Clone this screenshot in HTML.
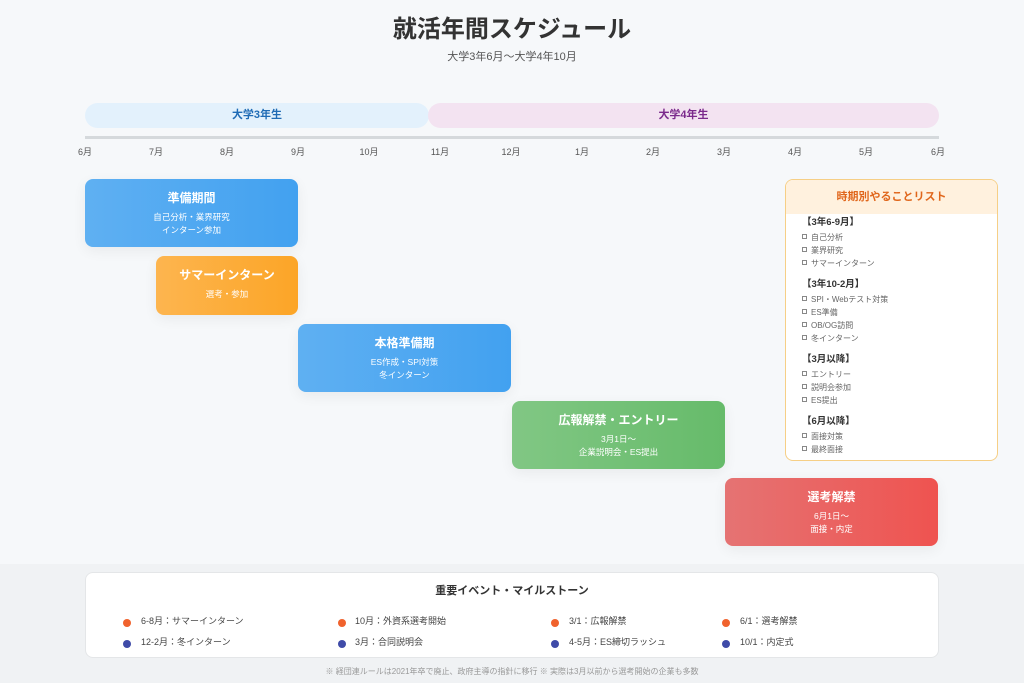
<!DOCTYPE html>
<html><head><meta charset="utf-8"><style>
*{margin:0;padding:0;box-sizing:border-box}
body{width:1024px;height:683px;background:#f6f8fa;font-family:"Liberation Sans","Noto Sans CJK JP",sans-serif;position:relative;overflow:hidden;color:#333}
.a{position:absolute}
.t{left:0;width:1024px;text-align:center}
.m{font-size:9px;color:#555;width:30px;text-align:center;top:145px}
.blk{position:absolute;border-radius:8px;color:#fff;text-align:center;box-shadow:0 4px 14px rgba(0,0,0,.06)}
.blk b{display:block;font-size:12px;margin-top:10px;margin-bottom:5px}
.blk span{font-size:8.5px;line-height:13px;display:block}
.ls{font-size:8px;color:#666;line-height:13px;padding-left:16px}
.ls i{display:inline-block;width:5px;height:5px;border:1px solid #888;margin-right:4px;vertical-align:1px}
.lh{font-size:9.5px;font-weight:bold;color:#333;padding-left:16px;margin-top:7px;line-height:16px}
.ev{font-size:9px;color:#444;position:absolute}
.dot{position:absolute;width:8px;height:8px;border-radius:50%}
</style></head><body>
<div class="a t" style="top:9px;font-size:24px;font-weight:bold;color:#333">就活年間スケジュール</div>
<div class="a t" style="top:48px;font-size:11px;color:#555">大学3年6月〜大学4年10月</div>
<div class="a" style="left:85px;top:103px;width:344px;height:25px;border-radius:13px;background:#e3f1fc;color:#1f6bb5;font-size:11px;font-weight:bold;text-align:center;line-height:25px">大学3年生</div>
<div class="a" style="left:428px;top:103px;width:511px;height:25px;border-radius:13px;background:#f3e3f1;color:#7b2a8c;font-size:11px;font-weight:bold;text-align:center;line-height:25px">大学4年生</div>
<div class="a" style="left:85px;top:136px;width:854px;height:3px;background:#d5d9dc"></div>
<div class="a m" style="left:70px">6月</div><div class="a m" style="left:141px">7月</div><div class="a m" style="left:212px">8月</div><div class="a m" style="left:283px">9月</div><div class="a m" style="left:354px">10月</div><div class="a m" style="left:425px">11月</div><div class="a m" style="left:496px">12月</div><div class="a m" style="left:567px">1月</div><div class="a m" style="left:638px">2月</div><div class="a m" style="left:709px">3月</div><div class="a m" style="left:780px">4月</div><div class="a m" style="left:851px">5月</div><div class="a m" style="left:923px">6月</div>
<div class="blk" style="left:85px;top:179px;width:213px;height:68px;background:linear-gradient(90deg,#5fb0f2,#42a1f0)"><b>準備期間</b><span>自己分析・業界研究<br>インターン参加</span></div>
<div class="blk" style="left:156px;top:256px;width:142px;height:59px;background:linear-gradient(90deg,#fdb54f,#fca527)"><b>サマーインターン</b><span>選考・参加</span></div>
<div class="blk" style="left:298px;top:324px;width:213px;height:68px;background:linear-gradient(90deg,#5fb0f2,#42a1f0)"><b>本格準備期</b><span>ES作成・SPI対策<br>冬インターン</span></div>
<div class="blk" style="left:512px;top:401px;width:213px;height:68px;background:linear-gradient(90deg,#81c784,#66bb6a)"><b>広報解禁・エントリー</b><span>3月1日〜<br>企業説明会・ES提出</span></div>
<div class="blk" style="left:725px;top:478px;width:213px;height:68px;background:linear-gradient(90deg,#e57373,#ef5350)"><b>選考解禁</b><span>6月1日〜<br>面接・内定</span></div>
<div class="a" style="left:785px;top:179px;width:213px;height:282px;background:#fff;border:1.5px solid #f6cf86;border-radius:8px;overflow:hidden">
<div style="background:#fff1de;height:34px;line-height:34px;text-align:center;color:#e0661b;font-weight:bold;font-size:11px">時期別やることリスト</div>
<div class="lh" style="margin-top:1px">【3年6-9月】</div>
<div class="ls"><i></i>自己分析<br><i></i>業界研究<br><i></i>サマーインターン</div>
<div class="lh">【3年10-2月】</div>
<div class="ls"><i></i>SPI・Webテスト対策<br><i></i>ES準備<br><i></i>OB/OG訪問<br><i></i>冬インターン</div>
<div class="lh">【3月以降】</div>
<div class="ls"><i></i>エントリー<br><i></i>説明会参加<br><i></i>ES提出</div>
<div class="lh">【6月以降】</div>
<div class="ls"><i></i>面接対策<br><i></i>最終面接</div>
</div>
<div class="a" style="left:0;top:564px;width:1024px;height:119px;background:#f0f2f4"></div>
<div class="a" style="left:85px;top:572px;width:854px;height:86px;background:#fff;border:1px solid #e4e6e8;border-radius:8px"></div>
<div class="a t" style="top:582px;font-size:11px;font-weight:bold;color:#333">重要イベント・マイルストーン</div>
<div class="dot" style="left:123px;top:619px;background:#f0622d"></div><div class="ev" style="left:141px;top:614px">6-8月：サマーインターン</div>
<div class="dot" style="left:338px;top:619px;background:#f0622d"></div><div class="ev" style="left:355px;top:614px">10月：外資系選考開始</div>
<div class="dot" style="left:551px;top:619px;background:#f0622d"></div><div class="ev" style="left:569px;top:614px">3/1：広報解禁</div>
<div class="dot" style="left:722px;top:619px;background:#f0622d"></div><div class="ev" style="left:740px;top:614px">6/1：選考解禁</div>
<div class="dot" style="left:123px;top:640px;background:#3f4ba8"></div><div class="ev" style="left:141px;top:635px">12-2月：冬インターン</div>
<div class="dot" style="left:338px;top:640px;background:#3f4ba8"></div><div class="ev" style="left:355px;top:635px">3月：合同説明会</div>
<div class="dot" style="left:551px;top:640px;background:#3f4ba8"></div><div class="ev" style="left:569px;top:635px">4-5月：ES締切ラッシュ</div>
<div class="dot" style="left:722px;top:640px;background:#3f4ba8"></div><div class="ev" style="left:740px;top:635px">10/1：内定式</div>
<div class="a t" style="top:666px;font-size:8px;color:#999">※ 経団連ルールは2021年卒で廃止、政府主導の指針に移行 ※ 実際は3月以前から選考開始の企業も多数</div>
</body></html>
